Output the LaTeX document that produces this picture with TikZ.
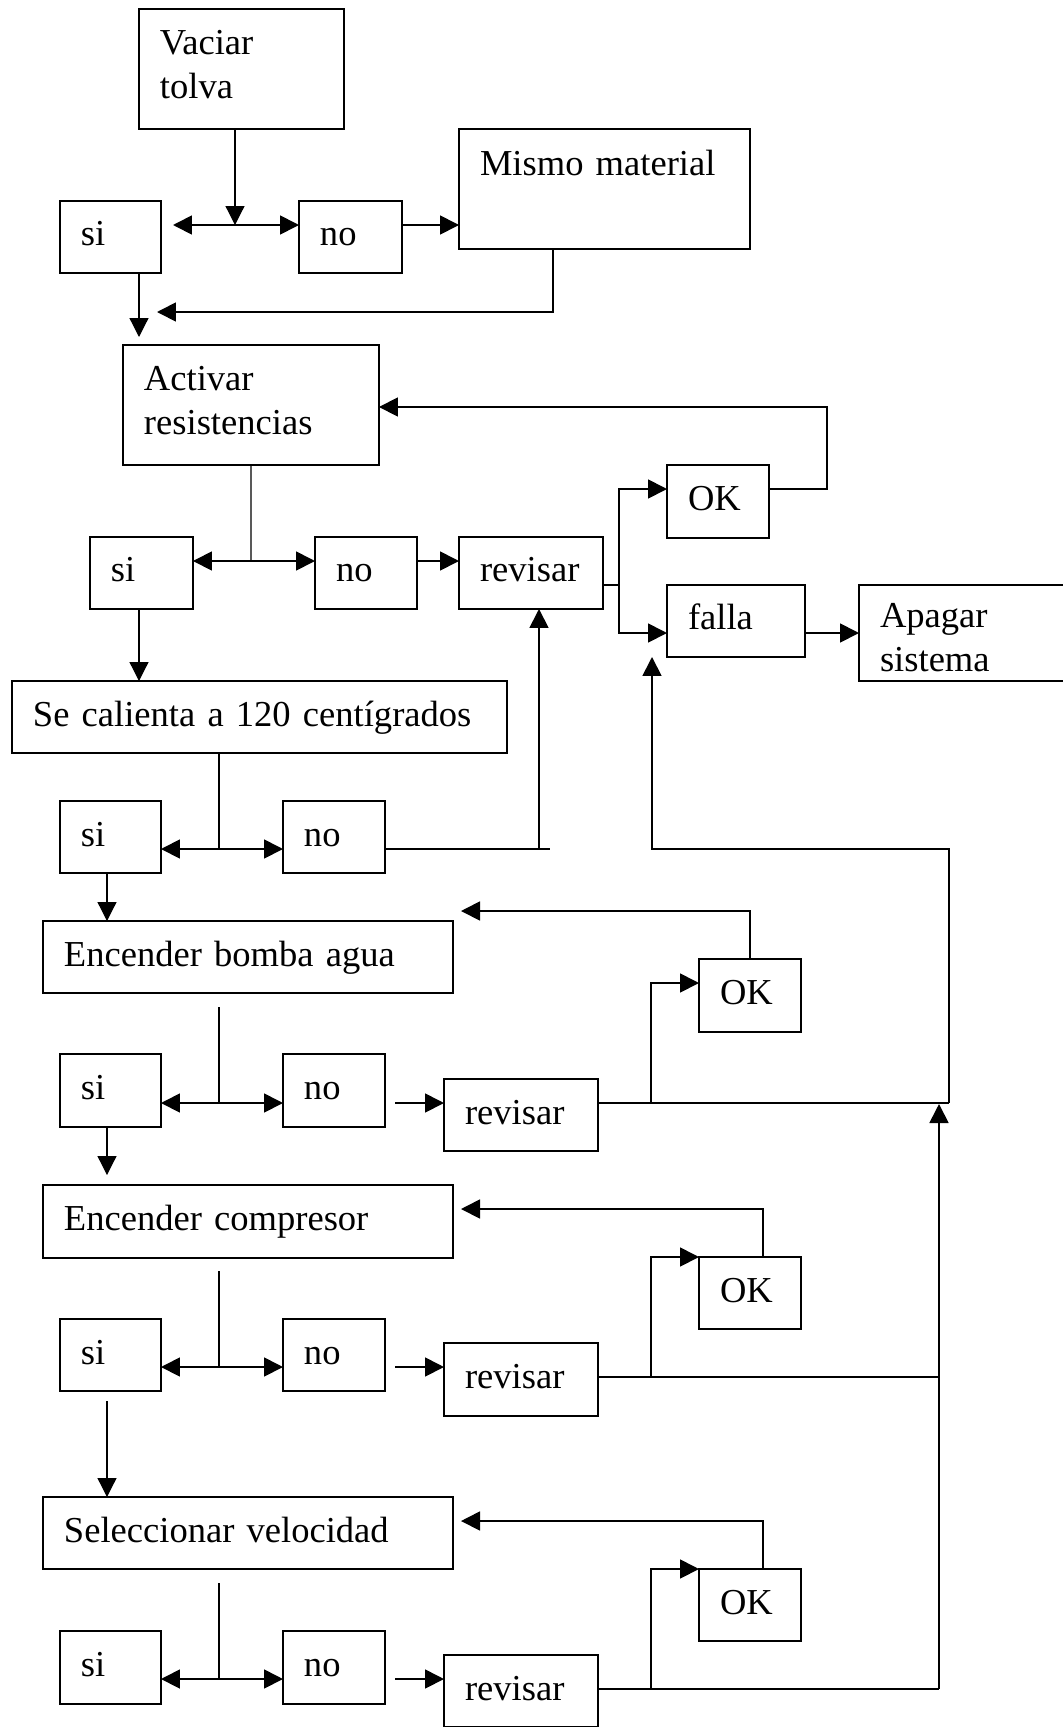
\documentclass[tikz,border=0pt]{standalone}
\usepackage{fontspec}
\setmainfont{Liberation Serif}
\usepackage{tikz}
\usetikzlibrary{arrows.meta, calc, positioning}

\begin{document}
\begin{tikzpicture}[x=0.02cm, y=-0.02cm,
    >={Triangle[length=0.38cm, width=0.38cm]},
    marco/.style={draw, line width=1.1pt, anchor=north west, outer sep=0pt,
        inner xsep=0.42cm, inner ysep=0pt, align=left,
        font=\fontsize{20.8}{24.5}\selectfont},
    caja/.style={marco, minimum height=1.44cm, text height=0.52cm, text depth=0.16cm},
    alta/.style={marco, minimum height=2.40cm, text height=0.52cm, text depth=1.08cm},
    linea/.style={line width=1pt},
    fina/.style={line width=0.7pt}]

    \useasboundingbox (0,0) rectangle (1062,1727);

    % =================================================================
    % 1. CAJAS
    % =================================================================
    \node[alta, text width=3.26cm] (tolva) at (139,9) {Vaciar\\tolva};
    \node[caja, text width=4.98cm, minimum height=2.40cm, text depth=1.04cm] (mismo) at (459,129) {Mismo material};
    \node[caja, text width=1.18cm] (si1) at (60,201) {si};
    \node[caja, text width=1.22cm] (no1) at (299,201) {no};

    \node[alta, text width=4.28cm] (activar) at (123,345) {Activar\\resistencias};
    \node[caja, text width=1.22cm] (si2) at (90,537) {si};
    \node[caja, text width=1.20cm] (no2) at (315,537) {no};
    \node[caja, text width=2.04cm] (revisar1) at (459,537) {revisar};
    \node[caja, text width=1.20cm, minimum height=1.46cm] (ok1) at (667,465) {OK};
    \node[caja, text width=1.92cm] (falla) at (667,585) {falla};
    \node[alta, text width=3.48cm, minimum height=1.92cm, text depth=0.72cm] (apagar) at (859,585) {Apagar\\sistema};

    \node[caja, text width=9.06cm] (calienta) at (12,681) {Se calienta a 120 centígrados};
    \node[caja, text width=1.18cm] (si3) at (60,801) {si};
    \node[caja, text width=1.20cm] (no3) at (283,801) {no};

    \node[caja, text width=7.36cm] (bomba) at (43,921) {Encender bomba agua};
    \node[caja, text width=1.20cm, minimum height=1.46cm] (ok2) at (699,959) {OK};
    \node[caja, text width=1.18cm, minimum height=1.46cm] (si4) at (60,1054) {si};
    \node[caja, text width=1.20cm, minimum height=1.46cm] (no4) at (283,1054) {no};
    \node[caja, text width=2.24cm] (revisar2) at (444,1079) {revisar};

    \node[caja, text width=7.36cm, minimum height=1.46cm] (compresor) at (43,1185) {Encender compresor};
    \node[caja, text width=1.20cm] (ok3) at (699,1257) {OK};
    \node[caja, text width=1.18cm] (si5) at (60,1319) {si};
    \node[caja, text width=1.20cm] (no5) at (283,1319) {no};
    \node[caja, text width=2.24cm, minimum height=1.46cm] (revisar3) at (444,1343) {revisar};

    \node[caja, text width=7.36cm] (seleccion) at (43,1497) {Seleccionar velocidad};
    \node[caja, text width=1.20cm] (ok4) at (699,1569) {OK};
    \node[caja, text width=1.18cm, minimum height=1.46cm] (si6) at (60,1631) {si};
    \node[caja, text width=1.20cm, minimum height=1.46cm] (no6) at (283,1631) {no};
    \node[caja, text width=2.24cm] (revisar4) at (444,1655) {revisar};

    % =================================================================
    % 2. PUNTOS DE UNION
    % =================================================================
    \coordinate (j1) at (235,225);
    \coordinate (l1) at (173,225);
    \coordinate (r1) at (553,312);
    \coordinate (t1) at (157,312);
    \coordinate (c1) at (139,337);
    \coordinate (j2) at (251,561);
    \coordinate (s1) at (619,585);
    \coordinate (f1) at (619,489);
    \coordinate (f2) at (619,633);
    \coordinate (k1) at (827,407);
    \coordinate (j3) at (219,849);
    \coordinate (u3) at (539,849);
    \coordinate (e3) at (550,849);
    \coordinate (q3) at (652,849);
    \coordinate (rr) at (949,1103);
    \coordinate (g2) at (461,911);
    \coordinate (b4) at (219,1007);
    \coordinate (j4) at (219,1103);
    \coordinate (n4) at (395,1103);
    \coordinate (v4) at (651,1103);
    \coordinate (w4) at (651,983);
    \coordinate (z4) at (939,1104);
    \coordinate (a4) at (107,1175);
    \coordinate (m3) at (763,1209);
    \coordinate (g3) at (461,1209);
    \coordinate (b5) at (219,1271);
    \coordinate (j5) at (219,1367);
    \coordinate (n5) at (395,1367);
    \coordinate (v5) at (651,1377);
    \coordinate (z5) at (939,1377);
    \coordinate (a5) at (107,1401);
    \coordinate (m4) at (763,1521);
    \coordinate (g4) at (461,1521);
    \coordinate (b6) at (219,1583);
    \coordinate (j6) at (219,1679);
    \coordinate (n6) at (395,1679);
    \coordinate (v6) at (651,1689);
    \coordinate (z6) at (939,1689);

    % =================================================================
    % 3. CONECTORES
    % =================================================================
    % vaciar tolva
    \draw[fina, ->] (tolva.south -| j1) -- (j1);
    \draw[linea, <->] (l1) -- (no1.west |- j1);
    \draw[linea, ->] (no1.east |- j1) -- (mismo.west |- j1);
    \draw[linea, ->] (mismo.south -| r1) -- (r1) -- (t1);
    \draw[fina, ->] (si1.south -| c1) -- (c1);

    % activar resistencias
    \draw[fina] (activar.south) -- (j2);
    \draw[linea, <->] (si2.east |- j2) -- (no2.west |- j2);
    \draw[linea, ->] (no2.east |- j2) -- (revisar1.west |- j2);
    \draw[linea] (revisar1.east |- s1) -- (s1);
    \draw[linea, <->] (ok1.west |- f1) -- (f1) -- (f2) -- (falla.west |- f2);
    \draw[linea, ->] (falla.east |- f2) -- (apagar.west |- f2);
    \draw[linea, ->] (ok1.east |- f1) -| (k1) -- (activar.east |- k1);

    % se calienta
    \draw[fina, ->] (si2.south -| c1) -- (calienta.north -| c1);
    \draw[fina] (calienta.south -| j3) -- (j3);
    \draw[linea, <->] (si3.east |- j3) -- (no3.west |- j3);
    \draw[linea] (no3.east |- j3) -- (e3);
    \draw[linea, ->] (u3) -- (revisar1.south -| u3);
    \draw[linea, ->] (rr) |- (q3) -- (falla.south -| q3);

    % bomba de agua
    \draw[fina, ->] (si3.south -| a4) -- (bomba.north -| a4);
    \draw[linea, ->] (ok2.north) |- (g2);
    \draw[fina] (b4) -- (j4);
    \draw[linea, <->] (si4.east |- j4) -- (no4.west |- j4);
    \draw[linea, ->] (n4) -- (revisar2.west |- j4);
    \draw[linea] (revisar2.east |- j4) -- (rr);
    \draw[linea, ->] (v4) -- (w4) -- (ok2.west |- w4);
    \draw[linea, ->] (z6) -- (z4);

    % compresor
    \draw[fina, ->] (si4.south -| a4) -- (a4);
    \draw[linea, ->] (ok3.north -| m3) -- (m3) -- (g3);
    \draw[fina] (b5) -- (j5);
    \draw[linea, <->] (si5.east |- j5) -- (no5.west |- j5);
    \draw[linea, ->] (n5) -- (revisar3.west |- j5);
    \draw[linea] (revisar3.east |- v5) -- (z5);
    \draw[linea, ->] (v5) |- (ok3.north west);

    % velocidad
    \draw[fina, ->] (a5) -- (seleccion.north -| a5);
    \draw[linea, ->] (ok4.north -| m4) -- (m4) -- (g4);
    \draw[fina] (b6) -- (j6);
    \draw[linea, <->] (si6.east |- j6) -- (no6.west |- j6);
    \draw[linea, ->] (n6) -- (revisar4.west |- j6);
    \draw[linea] (revisar4.east |- v6) -- (z6);
    \draw[linea, ->] (v6) |- (ok4.north west);

\end{tikzpicture}
\end{document}
